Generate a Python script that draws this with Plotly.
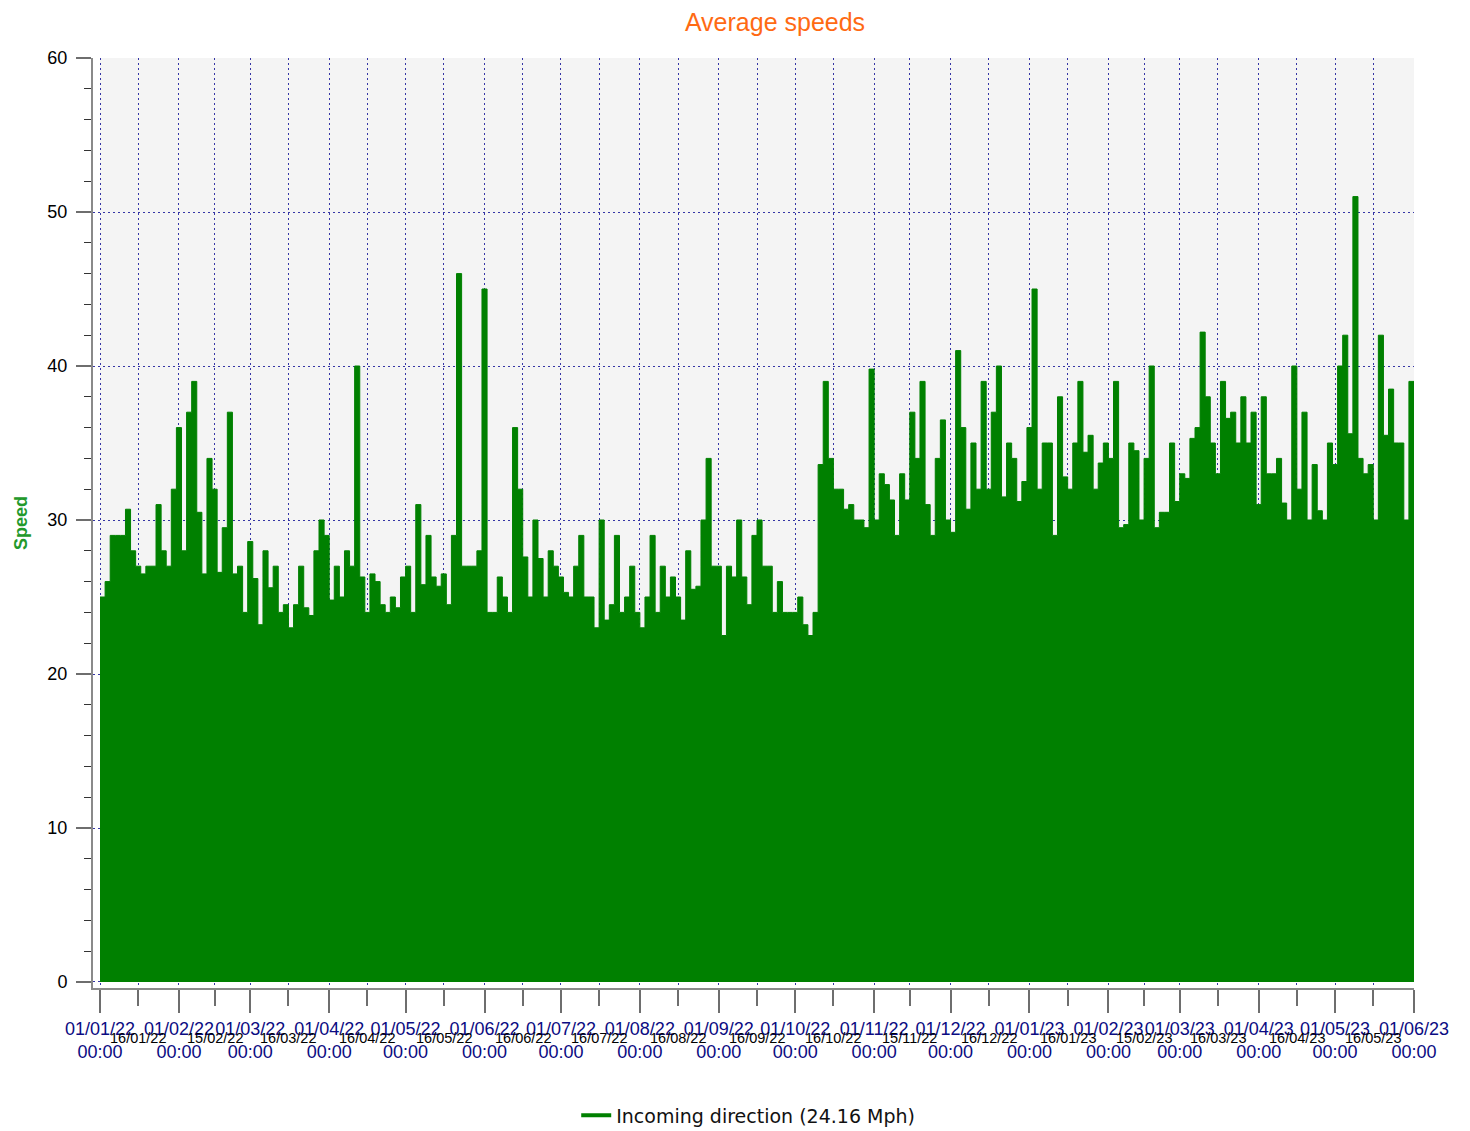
import plotly.graph_objects as go
import pandas as pd

# ---- data (2-day peak speeds) ----
start_date = "2022-01-01"
speeds = [
    25, 26, 29, 29, 29, 30.7, 28, 27, 26.5, 27, 27, 31, 28, 27, 32, 36, 28, 37, 39, 30.5, 26.5, 34,
    32, 26.6, 29.5, 37, 26.5, 27, 24, 28.6, 26.2, 23.2, 28, 25.6, 27, 24, 24.5, 23, 24.5, 27, 24.3, 23.8, 28, 30,
    29, 24.8, 27, 25, 28, 27, 40, 26.3, 24, 26.5, 26, 24.5, 24, 25, 24.3, 26.3, 27, 24, 31, 25.8, 29, 26.3,
    25.7, 26.5, 24.5, 29, 46, 27, 27, 27, 28, 45, 24, 24, 26.3, 25, 24, 36, 32, 27.6, 25, 30, 27.5,
    25, 28, 27, 26.3, 25.3, 25, 27, 29, 25, 25, 23, 30, 23.5, 24.5, 29, 24, 25, 27, 24, 23, 25, 29,
    24, 27, 25, 26.3, 25, 23.5, 28, 25.5, 25.7, 30, 34, 27, 27, 22.5, 27, 26.3, 30, 26.3, 24.5, 29, 30, 27,
    27, 24, 26, 24, 24, 24, 25, 23.2, 22.5, 24, 33.6, 39, 34, 32, 32, 30.7, 31, 30, 30, 29.5, 39.8, 30,
    33, 32.3, 31.3, 29, 33, 31.3, 37, 34, 39, 31, 29, 34, 36.5, 30, 29.2, 41, 36, 30.7, 35, 32, 39,
    32, 37, 40, 31.5, 35, 34, 31.2, 32.5, 36, 45, 32, 35, 35, 29, 38, 32.8, 32, 35, 39, 34.4, 35.5, 32,
    33.7, 35, 34, 39, 29.5, 29.7, 35, 34.5, 30, 34, 40, 29.5, 30.5, 30.5, 35, 31.2, 33, 32.7, 35.3, 36, 42.2,
    38, 35, 33, 39, 36.6, 37, 35, 38, 35, 37, 31, 38, 33, 33, 34, 31.1, 30, 40, 32, 37, 30, 33.6,
    30.6, 30, 35, 33.6, 40, 42, 35.6, 51, 34, 33, 33.6, 30, 42, 35.5, 38.5, 35, 35, 30, 39, 32,
]
dates = pd.date_range(start_date, periods=len(speeds), freq="2D")

major_ticks = pd.date_range("2022-01-01", "2023-06-01", freq="MS")
major_text = [d.strftime("%d/%m/%y") + "<br>00:00" for d in major_ticks]
minor_labels = ["16/01/22", "15/02/22", "16/03/22", "16/04/22", "16/05/22", "16/06/22",
                "16/07/22", "16/08/22", "16/09/22", "16/10/22", "15/11/22", "16/12/22",
                "16/01/23", "15/02/23", "16/03/23", "16/04/23", "16/05/23"]
minor_dates = pd.to_datetime(minor_labels, format="%d/%m/%y")
y_ticks = [0, 10, 20, 30, 40, 50, 60]

series_name = "Incoming direction (24.16 Mph)"
GREEN = "#008000"
GRID = "#3535a5"
GRID_DASH = "2px,3px"
FONT = "Liberation Sans, Arial, sans-serif"
OFF = 8  # page body margin of the html page

fig = go.Figure()
fig.add_trace(go.Scatter(
    x=dates, y=speeds, mode="lines", fill="tozeroy", fillcolor=GREEN,
    line=dict(color=GREEN, width=1, shape="hv"), showlegend=False, name=series_name,
))
fig.add_trace(go.Scatter(
    x=[None], y=[None], mode="lines", line=dict(color=GREEN, width=4), name=series_name,
))

# plot background only over the data window
fig.add_shape(type="rect", xref="x", yref="y", x0=major_ticks[0], x1=major_ticks[-1],
              y0=0, y1=60, fillcolor="#f4f4f4", line=dict(width=0), layer="below")

for d, t in zip(minor_dates, minor_labels):
    fig.add_annotation(x=d, xref="x", y=-0.054, yref="paper", text=t, showarrow=False,
                       font=dict(family=FONT, size=14.5, color="#000000"),
                       xanchor="center", yanchor="middle")

fig.update_layout(
    width=1470, height=1131,
    margin=dict(l=93 - OFF, r=56 + OFF, t=58 - OFF, b=143 + OFF, autoexpand=False),
    paper_bgcolor="white", plot_bgcolor="white",
    title=dict(text="Average speeds", x=(775 - OFF) / 1470, xref="container", xanchor="center",
               y=1 - (22 - OFF) / 1131, yanchor="middle",
               font=dict(family=FONT, size=25, color="#ff6a13")),
    legend=dict(orientation="h", x=0.496, xanchor="center", y=-0.137, yanchor="middle",
                font=dict(family="DejaVu Sans, sans-serif", size=19, color="#111111"),
                itemwidth=30),
    xaxis=dict(
        type="date", range=["2021-12-29 06:00", "2023-06-01"],
        tickmode="array", tickvals=major_ticks, ticktext=major_text, tickangle=0,
        tickfont=dict(family=FONT, size=18, color="#0b0b82"),
        ticks="outside", ticklen=23, tickwidth=1.5, tickcolor="#6e6e6e",
        showline=True, linecolor="#8a8a8a", linewidth=2,
        showgrid=True, gridcolor=GRID, griddash=GRID_DASH, gridwidth=1,
        minor=dict(tickmode="array", tickvals=minor_dates, ticks="outside", ticklen=16,
                   tickwidth=1.5, tickcolor="#6e6e6e", showgrid=True, gridcolor=GRID,
                   griddash=GRID_DASH, gridwidth=1),
        zeroline=False,
    ),
    yaxis=dict(
        range=[-0.39, 60], tickmode="array", tickvals=y_ticks,
        tickfont=dict(family=FONT, size=18, color="#000000"),
        ticks="outside", ticklen=15, tickwidth=1.5, tickcolor="#6e6e6e",
        ticklabelstandoff=5,
        showline=True, linecolor="#8a8a8a", linewidth=2,
        showgrid=True, gridcolor=GRID, griddash=GRID_DASH, gridwidth=1,
        minor=dict(dtick=2, tick0=0, ticks="outside", ticklen=7, tickwidth=1,
                   tickcolor="#333333", showgrid=False),
        zeroline=False,
        title=dict(text="<b>Speed</b>", standoff=15,
                   font=dict(family=FONT, size=18, color="#22992a")),
    ),
)

fig.write_html("out.html")
